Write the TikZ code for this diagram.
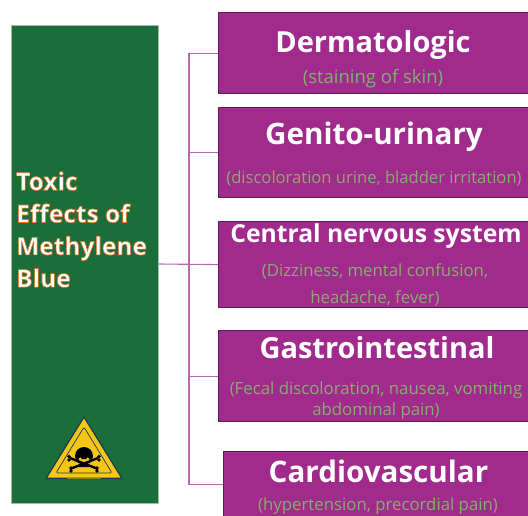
\documentclass[tikz,border=0pt]{standalone}
\usepackage{fontspec}
\setmainfont{Open Sans}
\definecolor{leaf}{HTML}{1A6E3A}
\definecolor{leafedge}{HTML}{9DBFA8}
\definecolor{plum}{HTML}{A02B8C}
\definecolor{plumedge}{HTML}{5E1A55}
\definecolor{linkc}{HTML}{B868B0}
\definecolor{subc}{HTML}{86AE6C}
\definecolor{haz}{HTML}{F5C518}
\definecolor{hazedge}{HTML}{1D3B4A}
\tikzset{
  x=1pt,y=-1pt,
  panel/.style={draw=plumedge,line width=1.2pt,fill=plum,inner sep=0pt,anchor=north west},
  headtext/.style={text=white,font=\bfseries\fontsize{#1}{#1}\selectfont,inner sep=0pt},
  subtext/.style={text=subc,font=\fontsize{16.8}{21}\selectfont,align=center,inner sep=0pt},
  link/.style={draw=linkc,line width=1.1pt},
}
\newcommand{\outlined}{\special{pdf:code 2 Tr 0.6 w 0.90 0.45 0.13 RG}}
\begin{document}
\begin{tikzpicture}
\useasboundingbox (0,0) rectangle (528,515);
\node[draw=leafedge,line width=0.7pt,fill=leaf,inner sep=0pt,anchor=north west,minimum width=147pt,minimum height=478pt] (root) at (11,25) {};
\node[panel,minimum width=311pt,minimum height=81pt] (b1) at (218,12) {};
\node[panel,minimum width=311pt,minimum height=90pt] (b2) at (218,107) {};
\node[panel,minimum width=311pt,minimum height=86pt] (b3) at (218,221) {};
\node[panel,minimum width=311pt,minimum height=91pt] (b4) at (218,330) {};
\node[panel,minimum width=306pt,minimum height=66pt] (b5) at (223,451) {};
\coordinate (spine) at (189,264);
\draw[link] (root.east |- spine) -- (b3.west);
\draw[link] (spine) |- (b1.west);
\draw[link] (spine) |- (b2.west);
\draw[link] (spine) |- (b4.west);
\draw[link] (spine) |- (b5.west);
\node[anchor=west,text=white,align=left,inner sep=0pt,font=\bfseries\fontsize{24.5}{32.3}\selectfont] (title) at (16,229.5) {\outlined Toxic\\\outlined Effects of\\\outlined Methylene\\\outlined Blue};
\node[headtext=29] (h1) at (373,45) {Dermatologic};
\node[subtext,font=\fontsize{18.5}{21}\selectfont] (s1) at (373,79) {(staining of skin)};
\node[headtext=29.6] (h2) at (374,137) {Genito-urinary};
\node[subtext,font=\fontsize{16.6}{21}\selectfont] (s2) at (374,179) {(discoloration urine, bladder irritation)};
\node[headtext=24.7] (h3) at (376,236) {Central nervous system};
\node[subtext,font=\fontsize{16.8}{27.5}\selectfont] (s3) at (375,285) {(Dizziness, mental confusion,\\headache, fever)};
\node[headtext=29] (h4) at (377,348) {Gastrointestinal};
\node[subtext] (s4) at (376,400.5) {(Fecal discoloration, nausea, vomiting\\abdominal pain)};
\node[headtext=29.6] (h5) at (378.5,471) {Cardiovascular};
\node[subtext] (s5) at (378,506) {(hypertension, precordial pain)};
% hazard sign
\fill[hazedge] (84,416) -- (123,479) -- (45,479) -- cycle;
\fill[haz] (84,418.5) -- (120.5,477.5) -- (47.5,477.5) -- cycle;
\fill[haz!60!black] (67,477.5) rectangle (101,479);
\draw[hazedge,line width=0.7pt,line join=round,rounded corners=2pt] (84,427) -- (112,473) -- (56,473) -- cycle;
\draw[black,line width=2.4pt] (70,458) -- (98,469) (98,458) -- (70,469);
\fill[black] (69,456.5) circle (1.8) (69,460) circle (1.8) (99,456.5) circle (1.8) (99,460) circle (1.8)
  (71,468) circle (1.8) (71,471) circle (1.8) (97,468) circle (1.8) (97,471) circle (1.8);
\fill[black] (84,456) circle (9) (79,459) rectangle (89,467);
\fill[haz] (80.2,459) circle (1.7) (87.8,459) circle (1.7);
\end{tikzpicture}
\end{document}
